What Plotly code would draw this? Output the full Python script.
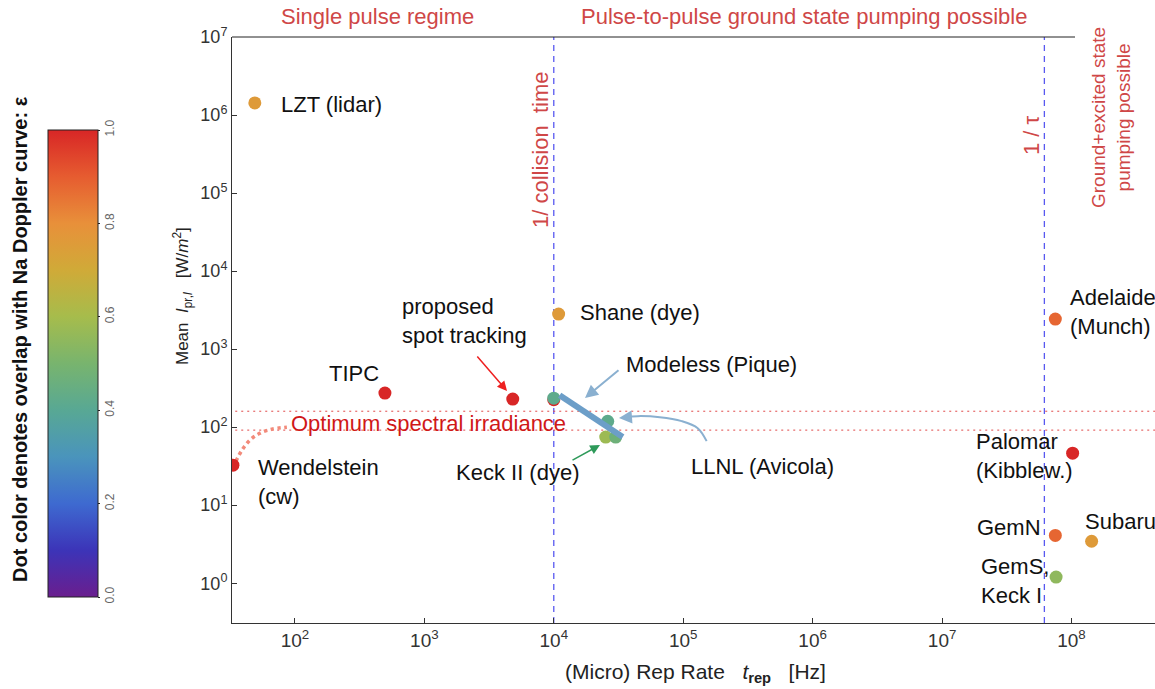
import plotly.graph_objects as go

# ---------------- data ----------------
names = ["LZT (lidar)", "Wendelstein (cw)", "TIPC", "proposed spot tracking",
         "Shane (dye)", "LLNL low", "Modeless (Pique)", "LLNL a", "Keck II (dye)",
         "LLNL b", "Adelaide (Munch)", "Palomar (Kibblew.)", "GemN", "Subaru",
         "GemS, Keck I"]
rep_rate = [49, 33.2, 496, 4820, 1.09e4, 1.0e4, 1.0e4, 2.61e4, 2.52e4, 3.01e4,
            7.5e7, 1.02e8, 7.5e7, 1.43e8, 7.6e7]
irradiance = [1.43e6, 32.6, 273, 229, 2810, 225, 235, 119, 74.5, 74.5,
              2430, 46.4, 4.1, 3.45, 1.2]
epsilon = [0.76, 1.0, 1.0, 1.0, 0.76, 1.0, 0.42, 0.42, 0.58, 0.47,
           0.88, 1.0, 0.88, 0.76, 0.55]

llnl_rate = [1.11e4, 3.41e4]
llnl_irr = [257, 74.5]

collision_rate = 1.0e4
tau_rate = 6.17e7
optimum_low = 91.6
optimum_high = 160

wend_curve_x = [35.0, 39.0, 44.9, 53.7, 66.4, 86.7]
wend_curve_y = [36.6, 50.7, 68.1, 83.7, 94.2, 100]

llnl_arrow_x = [1.517e5, 1.294e5, 9.73e4, 6.59e4, 4.46e4, 3.53e4]
llnl_arrow_y = [66.2, 97.0, 119.4, 134.3, 138.4, 134.3]

x_tickvals = [1e2, 1e3, 1e4, 1e5, 1e6, 1e7, 1e8]
x_ticktext = ["10<sup>2</sup>", "10<sup>3</sup>", "10<sup>4</sup>", "10<sup>5</sup>",
              "10<sup>6</sup>", "10<sup>7</sup>", "10<sup>8</sup>"]
y_tickvals = [1e0, 1e1, 1e2, 1e3, 1e4, 1e5, 1e6, 1e7]
y_ticktext = ["10<sup>0</sup>", "10<sup>1</sup>", "10<sup>2</sup>", "10<sup>3</sup>",
              "10<sup>4</sup>", "10<sup>5</sup>", "10<sup>6</sup>", "10<sup>7</sup>"]
cbar_vals = [0.0, 0.2, 0.4, 0.6, 0.8, 1.0]
cbar_text = ["0.0", "0.2", "0.4", "0.6", "0.8", "1.0"]

colorscale = [
    [0.0, "#6a1e8e"], [0.1, "#3c34b8"], [0.2, "#3e6ad0"], [0.3, "#4a94bc"],
    [0.4, "#58a894"], [0.5, "#78b46e"], [0.6, "#a6bc4c"], [0.7, "#d0aa38"],
    [0.8, "#e8903a"], [0.9, "#e65c30"], [1.0, "#d82626"],
]

# ---------------- layout geometry ----------------
W, H = 1155, 689
L, R, T, B = 232, 0, 37, 66
PW, PH = W - L - R, H - T - B
Y_LO, Y_HI = -0.51, 7.0


def px(x):
    return (x - L) / PW


def py(y):
    return (H - B - y) / PH


FONT = "Liberation Sans, Arial, sans-serif"
RED_TXT = "#cf4747"
LBL = 22

fig = go.Figure()

# vertical dashed lines
for xv in [collision_rate, tau_rate]:
    fig.add_trace(go.Scatter(x=[xv, xv], y=[10 ** Y_LO, 10 ** Y_HI], mode="lines",
                             line=dict(color="#5858f0", width=1.3, dash="6px,5px"),
                             hoverinfo="skip"))
# optimum dotted lines
for yv in [optimum_low, optimum_high]:
    fig.add_trace(go.Scatter(x=[10 ** 1.4, 10 ** 8.8], y=[yv, yv], mode="lines",
                             line=dict(color="#e04848", width=1, dash="2px,4px"),
                             hoverinfo="skip"))

# Wendelstein dotted curve
fig.add_trace(go.Scatter(x=wend_curve_x, y=wend_curve_y, mode="lines",
                         line=dict(color="#f28a7a", width=3.5, dash="dot", shape="spline"),
                         hoverinfo="skip"))
# LLNL curved arrow body
fig.add_trace(go.Scatter(x=llnl_arrow_x, y=llnl_arrow_y, mode="lines",
                         line=dict(color="#8ab0d0", width=2, shape="spline"),
                         hoverinfo="skip"))

# data points
fig.add_trace(go.Scatter(
    x=rep_rate, y=irradiance, mode="markers", text=names,
    marker=dict(size=13, color=epsilon, colorscale=colorscale, cmin=0, cmax=1,
                line=dict(width=0),
                showscale=True,
                colorbar=dict(
                    thickness=50, thicknessmode="pixels",
                    len=467, lenmode="pixels",
                    x=px(48), xanchor="left", xref="paper",
                    y=py(363.5), yanchor="middle", yref="paper",
                    xpad=0, ypad=0,
                    outlinecolor="#222", outlinewidth=1,
                    tickvals=cbar_vals, ticktext=cbar_text,
                    tickangle=-90, ticks="outside", ticklen=2, tickcolor="#222",
                    tickfont=dict(family=FONT, size=12, color="#666"),
                )),
))

# LLNL thick bar
fig.add_trace(go.Scatter(x=llnl_rate, y=llnl_irr, mode="lines",
                         line=dict(color="#6c9ec8", width=6), hoverinfo="skip"))

ann = []


def label(x, y, text, size=LBL, color="#111", xanchor="left", angle=0, align="left"):
    ann.append(dict(x=px(x), y=py(y), xref="paper", yref="paper", text=text,
                    showarrow=False, xanchor=xanchor, yanchor="middle", align=align,
                    textangle=angle, font=dict(family=FONT, size=size, color=color)))


label(279, 104, "LZT (lidar)")
label(578, 312, "Shane (dye)")
label(400, 321, "proposed<br>spot tracking")
label(327, 373, "TIPC")
label(624, 364, "Modeless (Pique)")
label(689, 466, "LLNL (Avicola)")
label(454, 472, "Keck II (dye)")
label(256, 482, "Wendelstein<br>(cw)")
label(1068, 312, "Adelaide<br>(Munch)")
label(974, 456, "Palomar<br>(Kibblew.)")
label(975, 527, "GemN")
label(1083, 521, "Subaru")
label(979, 581, "GemS,<br>Keck I")

label(428, 423, "Optimum spectral irradiance", color="#d01818", xanchor="center")

label(377, 17, "Single pulse regime", color=RED_TXT, xanchor="center")
label(804, 17, "Pulse-to-pulse ground state pumping possible", color=RED_TXT,
      xanchor="center")
label(540, 150, "1/ collision  time", color=RED_TXT, xanchor="center", angle=-90)
label(1031, 135, "1 / τ", size=22, color=RED_TXT, xanchor="center", angle=-90)
label(1111, 118, "Ground+excited state<br>pumping possible", size=19, color=RED_TXT,
      xanchor="center", angle=-90, align="center")

label(182, 296, "Mean  <i>I</i><sub>pr,<i>l</i></sub>   [W/<i>m</i><sup>2</sup>]", size=17,
      color="#222", xanchor="center", angle=-90)
label(695, 673, "(Micro) Rep Rate   <i>t</i><sub><b>rep</b></sub>   [Hz]", size=21,
      color="#222", xanchor="center")
label(20, 339, "<b>Dot color denotes overlap with Na Doppler curve: ε</b>", size=20,
      color="#111", xanchor="center", angle=-90)


def arrow(tipx, tipy, tailx, taily, color, width):
    ann.append(dict(x=px(tipx), y=py(tipy), xref="paper", yref="paper", text="",
                    showarrow=True, ax=tailx - tipx, ay=taily - tipy,
                    arrowcolor=color, arrowwidth=width, arrowhead=2, arrowsize=1.3,
                    standoff=0))


arrow(507, 391, 476, 355, "#ee2020", 1.5)
arrow(585, 398, 620, 369, "#8ab0d0", 2)
arrow(600, 445, 571, 461, "#2e9a5a", 1.5)
arrow(619, 418, 632, 417, "#8ab0d0", 2)

fig.update_layout(
    width=W, height=H,
    margin=dict(l=L, r=R, t=T, b=B, pad=0),
    paper_bgcolor="white", plot_bgcolor="white",
    showlegend=False,
    annotations=ann,
    shapes=[dict(type="line", xref="paper", yref="paper", x0=0, x1=px(1075),
                 y0=1, y1=1, line=dict(color="#222", width=1))],
    xaxis=dict(type="log", range=[1.514, 8.645], showgrid=False, zeroline=False,
               showline=True, linecolor="#333", linewidth=1,
               ticks="inside", ticklen=5, tickcolor="#333",
               tickvals=x_tickvals, ticktext=x_ticktext,
               tickfont=dict(family=FONT, size=19, color="#333")),
    yaxis=dict(type="log", range=[Y_LO, Y_HI], showgrid=False, zeroline=False,
               showline=True, linecolor="#333", linewidth=1,
               ticks="inside", ticklen=5, tickcolor="#333",
               tickvals=y_tickvals, ticktext=y_ticktext,
               tickfont=dict(family=FONT, size=18, color="#333")),
)

fig.write_html("out.html")
